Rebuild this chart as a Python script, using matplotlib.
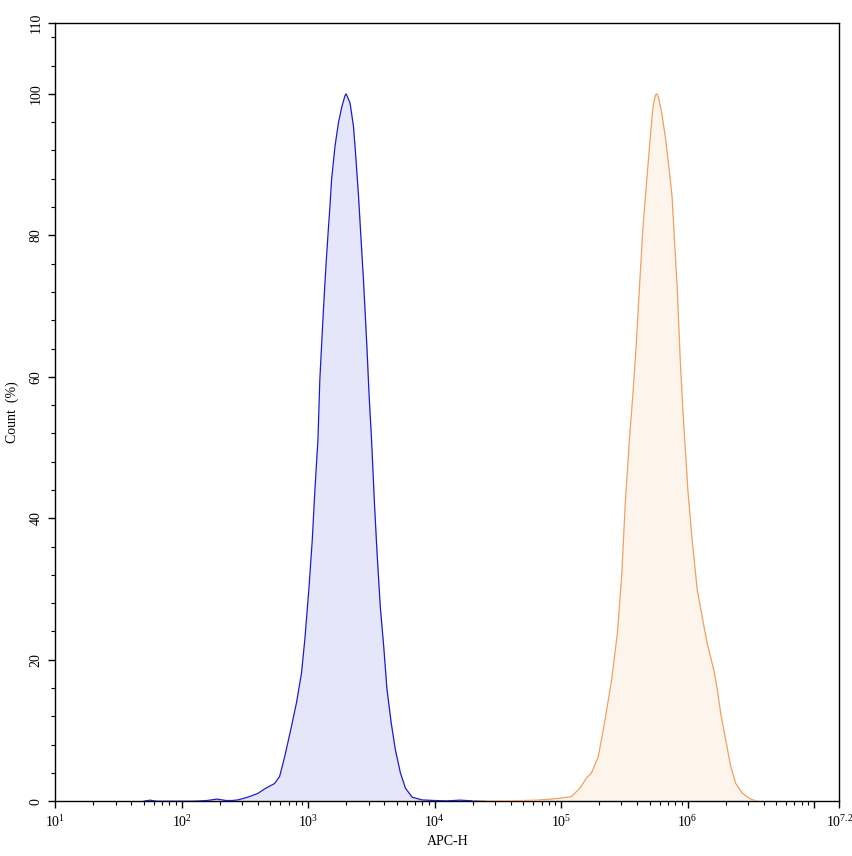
import numpy as np
import matplotlib
matplotlib.use("Agg")
import matplotlib.pyplot as plt
from matplotlib.ticker import FixedLocator, NullFormatter

plt.rcParams['font.family'] = ['Liberation Serif', 'DejaVu Serif']
plt.rcParams['mathtext.fontset'] = 'custom'
plt.rcParams['mathtext.rm'] = 'Liberation Serif'
plt.rcParams['mathtext.it'] = 'Liberation Serif:italic'
plt.rcParams['mathtext.bf'] = 'Liberation Serif:bold'

# ---- data (x as log10 of APC-H, y as Count %) ----
blue_log = [1.70, 1.75, 1.80, 2.10, 2.20, 2.28, 2.35, 2.40, 2.443, 2.523, 2.602, 2.655,
            2.734, 2.774, 2.814, 2.862, 2.907, 2.947, 2.973, 3.005, 3.032, 3.053, 3.077,
            3.092, 3.119, 3.140, 3.159, 3.172, 3.185, 3.212, 3.239, 3.265, 3.290, 3.299,
            3.310, 3.331, 3.358, 3.376, 3.398, 3.418, 3.437, 3.464, 3.482, 3.501, 3.525,
            3.546, 3.570, 3.597, 3.623, 3.657, 3.689, 3.729, 3.769, 3.822, 3.901, 4.0,
            4.1, 4.2, 4.3, 4.4]
blue_cnt = [0, 0.15, 0, 0, 0.1, 0.3, 0.1, 0.1, 0.18, 0.57, 1.1, 1.74,
            2.5, 3.5, 6.3, 10.1, 13.9, 18.1, 22.8, 29.9, 36.9, 44.0, 51.1,
            59.6, 69.0, 75.6, 80.8, 84.1, 87.9, 92.6, 95.9, 98.1, 99.7, 100,
            99.6, 98.7, 95.4, 91.2, 85.5, 79.4, 73.7, 64.3, 57.2, 51.1, 41.7,
            34.6, 27.5, 21.9, 15.8, 11.0, 7.3, 4.0, 1.84, 0.57, 0.18, 0.1,
            0.05, 0.15, 0.05, 0]

orange_log = [4.3, 4.6, 4.8, 4.909, 4.989, 5.081, 5.148, 5.201, 5.240, 5.294, 5.347,
              5.400, 5.445, 5.480, 5.506, 5.540, 5.566, 5.593, 5.620, 5.646, 5.673,
              5.699, 5.726, 5.745, 5.757, 5.770, 5.797, 5.824, 5.858, 5.877, 5.896,
              5.917, 5.943, 5.964, 5.977, 6.002, 6.036, 6.076, 6.115, 6.155, 6.208,
              6.235, 6.262, 6.301, 6.341, 6.381, 6.434, 6.500, 6.553]
orange_cnt = [0, 0.05, 0.15, 0.28, 0.42, 0.65, 1.84, 3.3, 4.0, 6.3, 11.5,
              17.2, 23.8, 32.2, 41.7, 51.1, 57.2, 64.3, 72.8, 80.8, 86.9,
              92.6, 98.1, 99.8, 100, 99.5, 97.1, 93.9, 88.7, 85.5, 79.4,
              72.8, 61.9, 54.9, 51.1, 44.0, 36.9, 29.9, 26.1, 22.3, 18.5,
              15.8, 12.4, 8.7, 4.9, 2.5, 1.1, 0.28, 0]

x_major_exp = [1, 2, 3, 4, 5, 6, 7, 7.2]
x_major_labels = [r'$10^{1}$', r'$10^{2}$', r'$10^{3}$', r'$10^{4}$', r'$10^{5}$',
                  r'$10^{6}$', '', r'$10^{7.2}$']
y_major = [0, 20, 40, 60, 80, 100, 110]
y_major_labels = ['0', '20', '40', '60', '80', '100', '110']

fig = plt.figure(figsize=(8.53, 8.56), dpi=100)
ax = fig.add_axes([0.0648, 0.064, 0.9192, 0.909])

bx = 10 ** np.array(blue_log)
ox = 10 ** np.array(orange_log)
ax.fill_between(bx, 0, blue_cnt, color='#e6e6fa', lw=0, zorder=1)
ax.plot(bx, blue_cnt, color='#1c1cc8', lw=0.9, zorder=3)
ax.fill_between(ox, 0, orange_cnt, color='#fdf5ec', lw=0, zorder=1)
ax.plot(ox, orange_cnt, color='#f0a060', lw=0.9, zorder=3)

ax.set_xscale('log')
ax.set_xlim(10 ** 1, 10 ** 7.2)
ax.set_ylim(0, 110)

xmaj = [10 ** e for e in x_major_exp]
ax.xaxis.set_major_locator(FixedLocator(xmaj))
ax.set_xticklabels(x_major_labels)
minors = [m * 10 ** d for d in range(1, 7) for m in range(2, 10)]
minors = [v for v in minors if v < 10 ** 7.2]
ax.xaxis.set_minor_locator(FixedLocator(minors))
ax.xaxis.set_minor_formatter(NullFormatter())

ax.yaxis.set_major_locator(FixedLocator(y_major))
ax.set_yticklabels(y_major_labels, rotation=90, va='center')
ax.yaxis.set_minor_locator(FixedLocator(list(range(4, 110, 4))))

ax.tick_params(axis='both', which='major', length=5, width=1, labelsize=10, direction='out')
ax.tick_params(axis='both', which='minor', length=3, width=0.8, direction='out')
ax.tick_params(axis='x', pad=4)
ax.tick_params(axis='y', pad=4)

for s in ax.spines.values():
    s.set_linewidth(1)

ax.set_xlabel('APC-H', fontsize=10, labelpad=4)
ax.set_ylabel('Count  (%)', fontsize=10, labelpad=8)

fig.savefig('out.png', dpi=100)
